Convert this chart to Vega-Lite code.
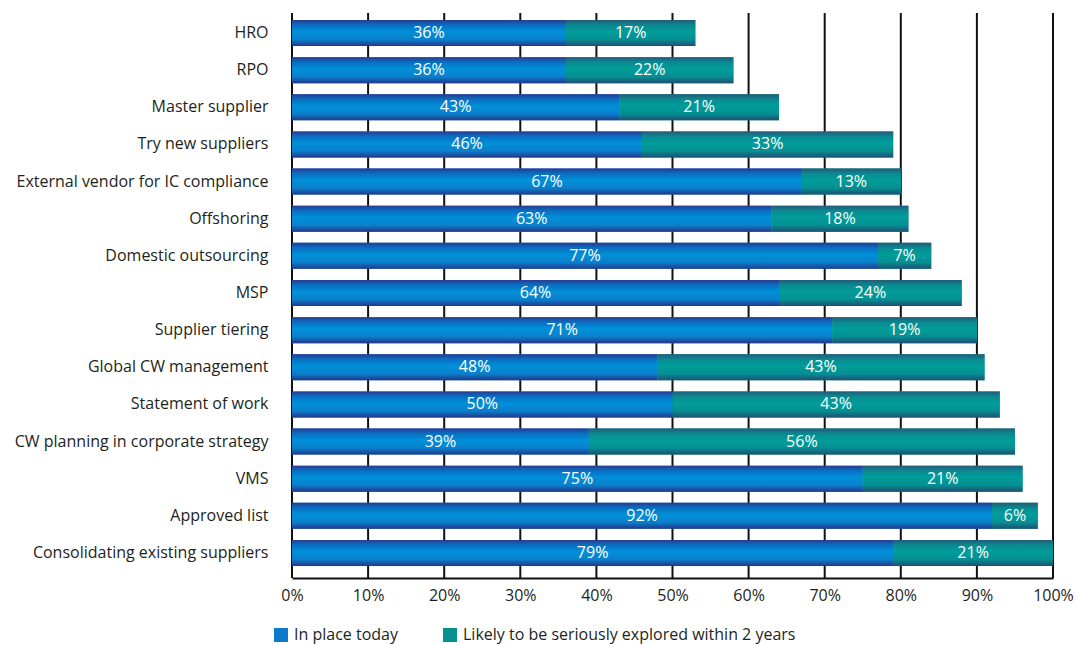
{
  "$schema": "https://vega.github.io/schema/vega-lite/v6.json",
  "width": 761,
  "height": 560,
  "autosize": {"type": "none"},
  "padding": {"left": 292, "top": 13, "right": 25, "bottom": 72},
  "background": "white",
  "config": {
    "font": "Open Sans",
    "view": {"stroke": null}
  },
  "data": {
    "values": [
      {"item": "HRO", "series": "In place today", "k": 1, "value": 36},
      {"item": "HRO", "series": "Likely to be seriously explored within 2 years", "k": 2, "value": 17},
      {"item": "RPO", "series": "In place today", "k": 1, "value": 36},
      {"item": "RPO", "series": "Likely to be seriously explored within 2 years", "k": 2, "value": 22},
      {"item": "Master supplier", "series": "In place today", "k": 1, "value": 43},
      {"item": "Master supplier", "series": "Likely to be seriously explored within 2 years", "k": 2, "value": 21},
      {"item": "Try new suppliers", "series": "In place today", "k": 1, "value": 46},
      {"item": "Try new suppliers", "series": "Likely to be seriously explored within 2 years", "k": 2, "value": 33},
      {"item": "External vendor for IC compliance", "series": "In place today", "k": 1, "value": 67},
      {"item": "External vendor for IC compliance", "series": "Likely to be seriously explored within 2 years", "k": 2, "value": 13},
      {"item": "Offshoring", "series": "In place today", "k": 1, "value": 63},
      {"item": "Offshoring", "series": "Likely to be seriously explored within 2 years", "k": 2, "value": 18},
      {"item": "Domestic outsourcing", "series": "In place today", "k": 1, "value": 77},
      {"item": "Domestic outsourcing", "series": "Likely to be seriously explored within 2 years", "k": 2, "value": 7},
      {"item": "MSP", "series": "In place today", "k": 1, "value": 64},
      {"item": "MSP", "series": "Likely to be seriously explored within 2 years", "k": 2, "value": 24},
      {"item": "Supplier tiering", "series": "In place today", "k": 1, "value": 71},
      {"item": "Supplier tiering", "series": "Likely to be seriously explored within 2 years", "k": 2, "value": 19},
      {"item": "Global CW management", "series": "In place today", "k": 1, "value": 48},
      {"item": "Global CW management", "series": "Likely to be seriously explored within 2 years", "k": 2, "value": 43},
      {"item": "Statement of work", "series": "In place today", "k": 1, "value": 50},
      {"item": "Statement of work", "series": "Likely to be seriously explored within 2 years", "k": 2, "value": 43},
      {"item": "CW planning in corporate strategy", "series": "In place today", "k": 1, "value": 39},
      {"item": "CW planning in corporate strategy", "series": "Likely to be seriously explored within 2 years", "k": 2, "value": 56},
      {"item": "VMS", "series": "In place today", "k": 1, "value": 75},
      {"item": "VMS", "series": "Likely to be seriously explored within 2 years", "k": 2, "value": 21},
      {"item": "Approved list", "series": "In place today", "k": 1, "value": 92},
      {"item": "Approved list", "series": "Likely to be seriously explored within 2 years", "k": 2, "value": 6},
      {"item": "Consolidating existing suppliers", "series": "In place today", "k": 1, "value": 79},
      {"item": "Consolidating existing suppliers", "series": "Likely to be seriously explored within 2 years", "k": 2, "value": 21}
    ]
  },
  "transform": [
    {"stack": "value", "groupby": ["item"], "sort": [{"field": "k", "order": "ascending"}], "as": ["v0", "v1"]}
  ],
  "encoding": {
    "y": {
      "field": "item",
      "type": "nominal",
      "sort": null,
      "scale": {"paddingInner": 0.3, "paddingOuter": 0.19},
      "axis": {
        "title": null,
        "domain": false,
        "ticks": false,
        "labelFontSize": 16,
        "labelLimit": 0,
        "labelColor": "#231f20",
        "labelPadding": 24,
        "labelFont": "Open Sans"
      }
    }
  },
  "layer": [
    {
      "mark": {"type": "rule", "color": "#111111", "strokeWidth": 2},
      "data": {"values": [{"t": 0}, {"t": 10}, {"t": 20}, {"t": 30}, {"t": 40}, {"t": 50}, {"t": 60}, {"t": 70}, {"t": 80}, {"t": 90}, {"t": 100}]},
      "transform": [],
      "encoding": {
        "x": {"field": "t", "type": "quantitative", "scale": {"domain": [0, 100]}},
        "y": {"value": 0},
        "y2": {"value": 565}
      }
    },
    {
      "mark": {"type": "bar"},
      "encoding": {
        "x": {
          "field": "v0",
          "type": "quantitative",
          "scale": {"domain": [0, 100], "nice": false},
          "axis": {
            "title": null,
            "offset": 5,
            "values": [0, 10, 20, 30, 40, 50, 60, 70, 80, 90, 100],
            "labelExpr": "datum.value + '%'",
            "labelFlush": false,
            "grid": false,
            "ticks": false,
            "domainColor": "#111111",
            "domainWidth": 2,
            "labelFontSize": 16,
            "labelColor": "#231f20",
            "labelPadding": 9
          }
        },
        "x2": {"field": "v1"},
        "color": {
          "field": "series",
          "type": "nominal",
          "scale": {
            "domain": ["In place today", "Likely to be seriously explored within 2 years"],
            "range": ["#0a7ccb", "#06908f"]
          },
          "legend": {
            "title": null,
            "orient": "none",
            "direction": "horizontal",
            "legendX": -19,
            "legendY": 614,
            "symbolType": "square",
            "symbolSize": 196,
            "symbolStrokeWidth": 0,
            "symbolOpacity": 1,
            "labelFontSize": 16,
            "labelLimit": 0,
            "labelColor": "#231f20",
            "labelOffset": 5,
            "columnPadding": 44
          }
        }
      }
    },
    {
      "transform": [{"filter": "datum.k === 1"}],
      "mark": {
        "type": "bar",
        "color": {"gradient": "linear", "x1": 0, "y1": 0, "x2": 0, "y2": 1, "stops": [
          {"offset": 0, "color": "#2a3a8f"},
          {"offset": 0.18, "color": "#0a6cc0"},
          {"offset": 0.45, "color": "#0090d8"},
          {"offset": 0.75, "color": "#0a80cc"},
          {"offset": 1, "color": "#24378a"}
        ]}
      },
      "encoding": {
        "x": {"field": "v0", "type": "quantitative"},
        "x2": {"field": "v1"}
      }
    },
    {
      "transform": [{"filter": "datum.k === 2"}],
      "mark": {
        "type": "bar",
        "color": {"gradient": "linear", "x1": 0, "y1": 0, "x2": 0, "y2": 1, "stops": [
          {"offset": 0, "color": "#245a78"},
          {"offset": 0.2, "color": "#0a8a92"},
          {"offset": 0.45, "color": "#009d99"},
          {"offset": 0.75, "color": "#058f93"},
          {"offset": 1, "color": "#1f4f72"}
        ]}
      },
      "encoding": {
        "x": {"field": "v0", "type": "quantitative"},
        "x2": {"field": "v1"}
      }
    },
    {
      "transform": [
        {"calculate": "(datum.v0 + datum.v1) / 2", "as": "mid"},
        {"calculate": "datum.value + '%'", "as": "label"}
      ],
      "mark": {"type": "text", "color": "white", "fontSize": 16, "align": "center", "baseline": "middle"},
      "encoding": {
        "x": {"field": "mid", "type": "quantitative"},
        "text": {"field": "label"}
      }
    }
  ]
}
